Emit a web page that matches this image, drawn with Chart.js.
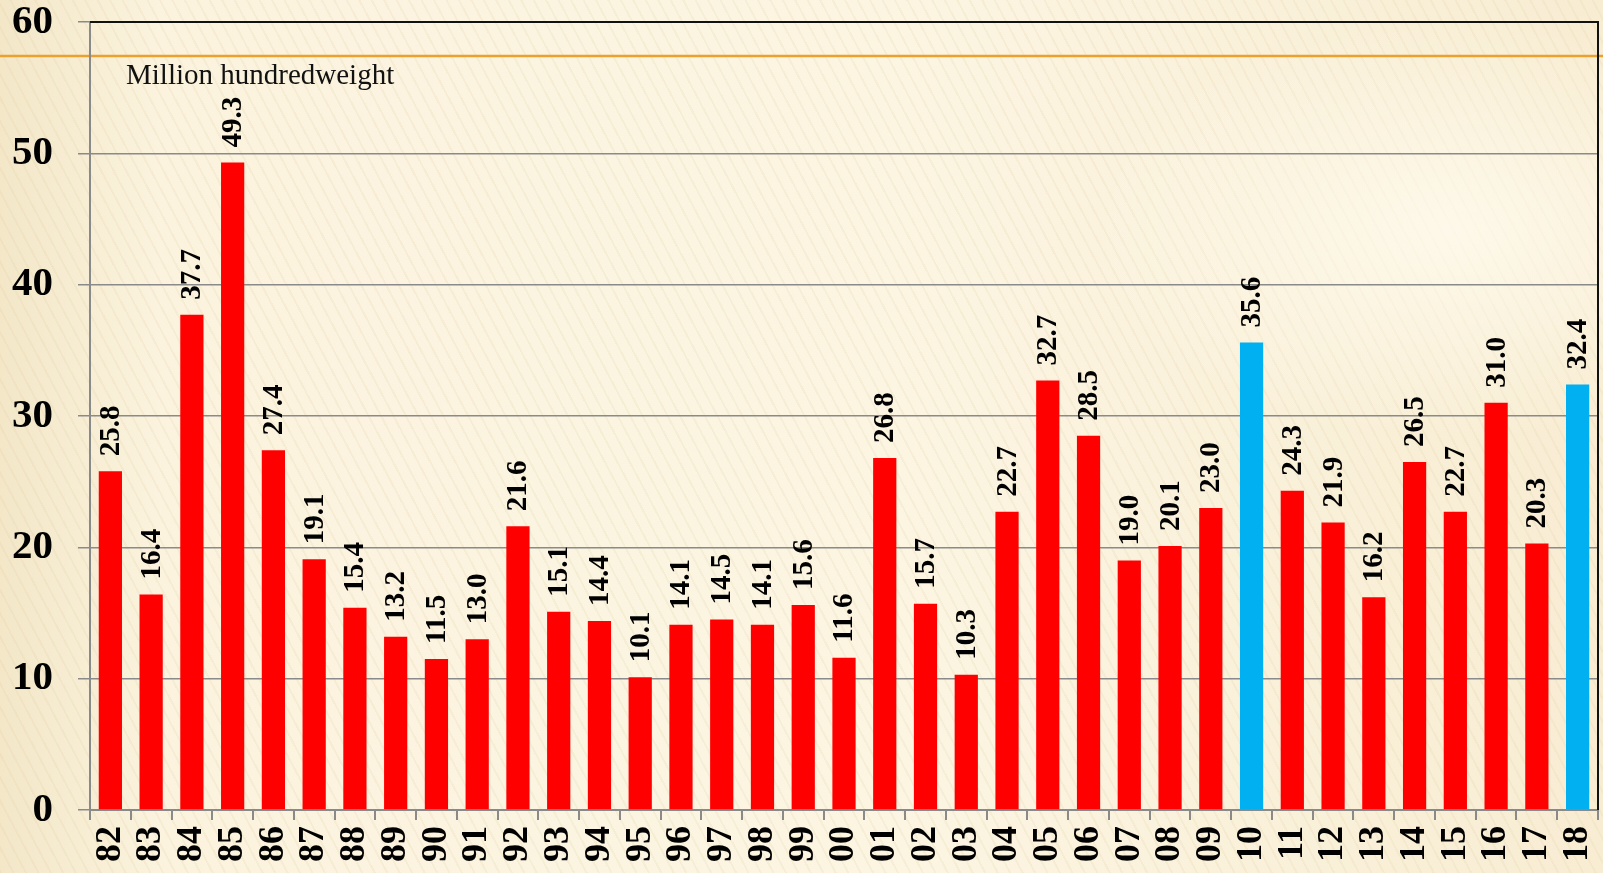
<!DOCTYPE html>
<html>
<head>
<meta charset="utf-8">
<script src="https://cdn.jsdelivr.net/npm/chart.js@4"></script>
<style>
  html, body { margin:0; padding:0; }
  body {
    width:1603px; height:873px; overflow:hidden;
    background:
      radial-gradient(ellipse 520px 300px at 1450px 230px, rgba(255,252,240,.75), rgba(255,252,240,0) 70%),
      repeating-linear-gradient(62deg, rgba(214,190,140,.13) 0 2px, rgba(255,255,255,0) 2px 11px),
      linear-gradient(90deg, #f3e7c8 0, #fbf3de 160px, #fcf5e2 900px, #f8edd3 1603px);
  }
  #wrap { position:relative; width:1603px; height:873px; }
  #note {
    position:absolute; left:126px; top:58px;
    font: 29px "Liberation Serif", "Times New Roman", serif; color:#111;
  }
</style>
</head>
<body>
<div id="wrap">
  <canvas id="chart" width="1603" height="873"></canvas>
  <div id="note">Million hundredweight</div>
</div>
<script>
const years = ["82","83","84","85","86","87","88","89","90","91","92","93","94","95","96","97","98","99",
  "00","01","02","03","04","05","06","07","08","09","10","11","12","13","14","15","16","17","18"];
const harvest = [25.8,16.4,37.7,49.3,27.4,19.1,15.4,13.2,11.5,13.0,21.6,15.1,14.4,10.1,14.1,14.5,14.1,15.6,
  11.6,26.8,15.7,10.3,22.7,32.7,28.5,19.0,20.1,23.0,35.6,24.3,21.9,16.2,26.5,22.7,31.0,20.3,32.4];
const highlighted = ["10","18"];
const yTicks = [0,10,20,30,40,50,60];

const RED = "#ff0000", BLUE = "#00b0f0";
const SERIF = "'Liberation Serif', 'Times New Roman', serif";

// slide line, black frame on top/right, rotated value labels
const decor = {
  id: "decor",
  beforeDraw(chart) {
    const c = chart.ctx;
    c.save();
    c.strokeStyle = "#eaa12e"; c.lineWidth = 2.5;
    c.beginPath(); c.moveTo(0, 56); c.lineTo(chart.width, 56); c.stroke();
    c.restore();
  },
  afterDraw(chart) {
    const c = chart.ctx, a = chart.chartArea;
    c.save();
    c.strokeStyle = "#111"; c.lineWidth = 2;
    c.beginPath(); c.moveTo(a.left, a.top); c.lineTo(a.right, a.top); c.lineTo(a.right, a.bottom); c.stroke();
    c.restore();
  },
  afterDatasetsDraw(chart) {
    const c = chart.ctx;
    const meta = chart.getDatasetMeta(0);
    c.save();
    c.fillStyle = "#000";
    c.font = "bold 29px " + SERIF;
    c.textAlign = "left"; c.textBaseline = "middle";
    meta.data.forEach((bar, i) => {
      c.save();
      c.translate(bar.x, bar.y - 15);
      c.rotate(-Math.PI / 2);
      c.fillText(harvest[i].toFixed(1), 0, 1);
      c.restore();
    });
    c.restore();
  }
};

new Chart(document.getElementById("chart"), {
  type: "bar",
  data: {
    labels: years,
    datasets: [{
      data: harvest,
      backgroundColor: years.map(y => highlighted.includes(y) ? BLUE : RED),
      borderWidth: 0,
      barPercentage: 0.57,
      categoryPercentage: 1
    }]
  },
  options: {
    responsive: false,
    devicePixelRatio: 1,
    animation: false,
    layout: { padding: 0 },
    plugins: { legend: { display: false }, tooltip: { enabled: false } },
    scales: {
      x: {
        grid: { drawOnChartArea: false, color: "#8a8a8a", lineWidth: 2, tickLength: 10, offset: true },
        border: { color: "#8a8a8a", width: 2 },
        ticks: { color: "#000", font: { family: SERIF, size: 36, weight: "bold" }, minRotation: 90, maxRotation: 90, padding: 6, autoSkip: false },
        afterFit: s => { s.height = 63; s.paddingLeft = 0; s.paddingRight = 5; }
      },
      y: {
        min: 0, max: 60,
        afterBuildTicks: s => { s.ticks = yTicks.map(v => ({ value: v })); },
        grid: { color: "#8a8a8a", lineWidth: 1.5, tickLength: 12 },
        border: { color: "#8a8a8a", width: 2 },
        ticks: { color: "#000", font: { family: SERIF, size: 41, weight: "bold" }, padding: 25 },
        afterFit: s => { s.width = 90; s.paddingTop = 22; s.paddingBottom = 0; }
      }
    }
  },
  plugins: [decor]
});
</script>
</body>
</html>
